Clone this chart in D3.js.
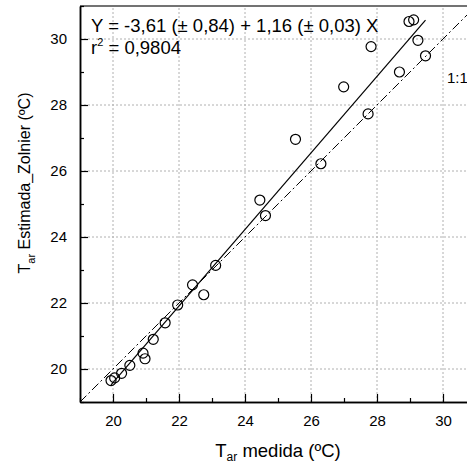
<!DOCTYPE html>
<html>
<head>
<meta charset="utf-8">
<script src="https://cdn.jsdelivr.net/npm/d3@7"></script>
<style>
  body { margin: 0; background: #fff; }
  text { font-family: "Liberation Sans", Arial, sans-serif; }
</style>
</head>
<body>
<main></main>
<script>
// observed vs estimated air temperature (ºC)
const medida = [19.94, 20.05, 20.26, 20.51, 20.91, 20.97, 21.22, 21.58, 21.96, 22.41, 22.75, 23.11,
                24.45, 24.62, 25.53, 26.30, 26.99, 27.73, 27.82, 28.68, 28.97, 29.11, 29.24, 29.47];
const estimada = [19.65, 19.73, 19.87, 20.11, 20.48, 20.31, 20.90, 21.40, 21.94, 22.55, 22.25, 23.14,
                  25.12, 24.65, 26.96, 26.22, 28.55, 27.73, 29.77, 29.00, 30.53, 30.58, 29.96, 29.49];
const fit = {a: -3.61, b: 1.16};
const majorTicks = [20, 22, 24, 26, 28, 30];
const minorTicks = [19, 21, 23, 25, 27, 29, 31];

const width = 467;
const height = 466;
const margin = {top: 6, left: 80, bottom: 64};
const plotRight = 476; // frame runs past the right edge of the picture

const svg = d3.select("main").append("svg")
    .attr("width", width)
    .attr("height", height);

const x = d3.scaleLinear().domain([19, 31]).range([margin.left, plotRight]);
const y = d3.scaleLinear().domain([19, 31]).range([height - margin.bottom, margin.top]);

svg.append("clipPath").attr("id", "plot")
  .append("rect")
    .attr("x", margin.left).attr("y", margin.top)
    .attr("width", plotRight - margin.left)
    .attr("height", height - margin.bottom - margin.top);

// dotted grid
const grid = svg.append("g")
    .attr("stroke", "#b0b0b0")
    .attr("stroke-width", 1)
    .attr("stroke-dasharray", "2,2");
grid.selectAll(".gx").data(majorTicks).join("line")
    .attr("x1", d => x(d)).attr("x2", d => x(d))
    .attr("y1", y(19)).attr("y2", y(31));
grid.selectAll(".gy").data(majorTicks).join("line")
    .attr("y1", d => y(d)).attr("y2", d => y(d))
    .attr("x1", x(19)).attr("x2", x(31));

// top frame
svg.append("line")
    .attr("x1", x(19)).attr("x2", x(31))
    .attr("y1", y(31)).attr("y2", y(31))
    .attr("stroke", "#444").attr("stroke-width", 1.5);

const lines = svg.append("g").attr("clip-path", "url(#plot)");

// 1:1 line
lines.append("line")
    .attr("x1", x(19)).attr("y1", y(19))
    .attr("x2", x(31)).attr("y2", y(31))
    .attr("stroke", "#000").attr("stroke-width", 1)
    .attr("stroke-dasharray", "9,3,2,3");

// regression line over the data range
const [xmin, xmax] = d3.extent(medida);
lines.append("line")
    .attr("x1", x(xmin)).attr("y1", y(fit.a + fit.b * xmin))
    .attr("x2", x(xmax)).attr("y2", y(fit.a + fit.b * xmax))
    .attr("stroke", "#000").attr("stroke-width", 1.2);

// points
svg.append("g")
  .selectAll("circle")
  .data(d3.zip(medida, estimada))
  .join("circle")
    .attr("cx", d => x(d[0]))
    .attr("cy", d => y(d[1]))
    .attr("r", 5)
    .attr("fill", "none")
    .attr("stroke", "#000")
    .attr("stroke-width", 1.2);

// axes, ticks pointing inwards
const axis_x = svg.append("g")
    .attr("transform", `translate(0, ${y(19)})`)
    .call(d3.axisBottom(x).tickValues(majorTicks).tickSize(-8).tickSizeOuter(0).tickPadding(13));
svg.append("g")
    .attr("transform", `translate(0, ${y(19)})`)
    .call(d3.axisBottom(x).tickValues(minorTicks).tickSize(-4).tickSizeOuter(0).tickFormat(""));

const axis_y = svg.append("g")
    .attr("transform", `translate(${x(19)}, 0)`)
    .call(d3.axisLeft(y).tickValues(majorTicks).tickSize(-8).tickSizeOuter(0).tickPadding(13));
svg.append("g")
    .attr("transform", `translate(${x(19)}, 0)`)
    .call(d3.axisLeft(y).tickValues(minorTicks).tickSize(-4).tickSizeOuter(0).tickFormat(""));

svg.selectAll(".domain").attr("stroke", "#000").attr("stroke-width", 1.5);
svg.selectAll(".tick line").attr("stroke", "#000").attr("stroke-width", 1.2);
svg.selectAll(".tick text")
    .attr("font-family", "Liberation Sans, Arial, sans-serif")
    .attr("font-size", 15)
    .attr("fill", "#000");

// axis titles
const xt = svg.append("text")
    .attr("x", (margin.left + plotRight) / 2)
    .attr("y", 457)
    .attr("text-anchor", "middle")
    .attr("font-size", 18.5);
xt.append("tspan").text("T");
xt.append("tspan").attr("font-size", 12).attr("dy", 4).text("ar");
xt.append("tspan").attr("dy", -4).text(" medida (ºC)");

const yt = svg.append("text")
    .attr("transform", `translate(30, ${(y(19) + y(31)) / 2 - 21}) rotate(-90)`)
    .attr("text-anchor", "middle")
    .attr("font-size", 16);
yt.append("tspan").text("T");
yt.append("tspan").attr("font-size", 11).attr("dy", 5).text("ar");
yt.append("tspan").attr("dy", -5).text(" Estimada_Zolnier (ºC)");

// equation
svg.append("text")
    .attr("x", 91).attr("y", 32)
    .attr("font-size", 18.5)
    .text(`Y = ${String(fit.a).replace(".", ",")} (± 0,84) + ${String(fit.b).replace(".", ",")} (± 0,03) X`);
const r2 = svg.append("text")
    .attr("x", 91).attr("y", 54)
    .attr("font-size", 18.5);
r2.append("tspan").text("r");
r2.append("tspan").attr("font-size", 11).attr("dy", -8).text("2");
r2.append("tspan").attr("dy", 8).text(" = 0,9804");

svg.append("text")
    .attr("x", 447).attr("y", 83)
    .attr("font-size", 15)
    .text("1:1");
</script>
</body>
</html>
